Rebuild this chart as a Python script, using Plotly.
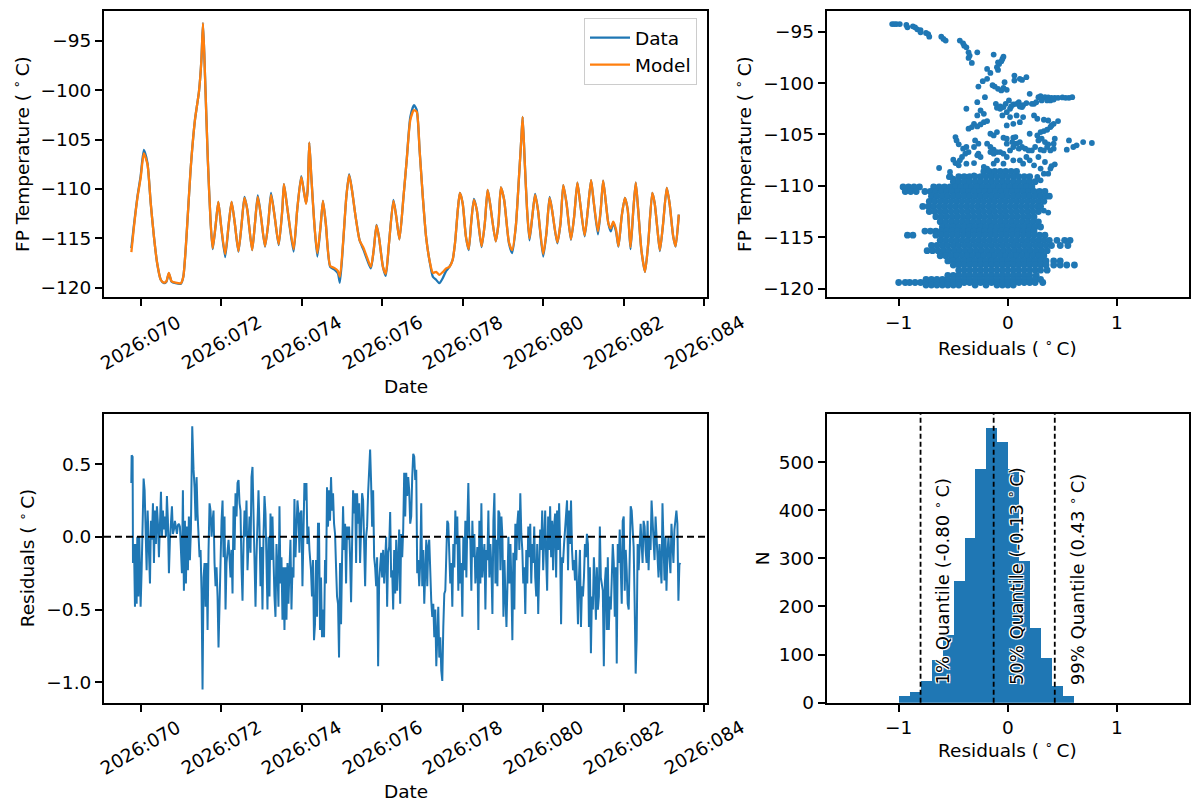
import plotly.graph_objects as go

# ---------------- data ----------------
temp_day = [69.77, 69.83, 69.92, 70.00, 70.08, 70.17, 70.25, 70.33, 70.41, 70.50,
            70.58, 70.64, 70.70, 70.77, 70.87, 71.00, 71.06, 71.14, 71.24, 71.35,
            71.45, 71.51, 71.55, 71.60, 71.67, 71.74, 71.79, 71.86, 71.93, 72.00,
            72.10, 72.19, 72.26, 72.34, 72.43, 72.51, 72.58, 72.65, 72.77, 72.84,
            72.91, 72.99, 73.09, 73.17, 73.24, 73.33, 73.43, 73.52, 73.56, 73.64,
            73.80, 73.89, 73.99, 74.05, 74.11, 74.15, 74.19, 74.24, 74.32, 74.39,
            74.47, 74.53, 74.60, 74.71, 74.81, 74.90, 74.95, 75.03, 75.11, 75.18,
            75.25, 75.34, 75.44, 75.54, 75.63, 75.72, 75.79, 75.86, 75.92, 76.02,
            76.09, 76.17, 76.28, 76.35, 76.43, 76.53, 76.61, 76.70, 76.79, 76.86,
            76.93, 77.01, 77.09, 77.18, 77.26, 77.34, 77.42, 77.51, 77.59, 77.67,
            77.75, 77.81, 77.88, 77.93, 78.00, 78.08, 78.15, 78.21, 78.28, 78.35,
            78.47, 78.55, 78.62, 78.68, 78.82, 78.89, 78.95, 79.03, 79.15, 79.23,
            79.32, 79.40, 79.46, 79.49, 79.54, 79.60, 79.66, 79.73, 79.80, 79.87,
            80.00, 80.08, 80.16, 80.22, 80.35, 80.43, 80.50, 80.58, 80.69, 80.77,
            80.85, 80.92, 81.03, 81.11, 81.19, 81.25, 81.36, 81.43, 81.49, 81.55,
            81.62, 81.68, 81.74, 81.81, 81.87, 81.95, 82.03, 82.10, 82.17, 82.24,
            82.30, 82.36, 82.44, 82.53, 82.61, 82.71, 82.77, 82.84, 82.90, 82.98,
            83.07, 83.14, 83.23, 83.29, 83.37]

temp_data = [-116.0, -113.8, -110.8, -108.7, -106.05, -107.4, -111.4, -114.8, -117.5, -119.2,
             -119.55, -119.4, -118.55, -119.4, -119.55, -119.6, -118.9, -114.8, -108.1, -103.0,
             -100.1, -96.9, -93.2, -98.6, -107.1, -113.5, -116.1, -113.8, -111.3, -113.8,
             -116.9, -113.5, -111.3, -113.5, -116.35, -113.5, -110.8, -112.1, -116.2, -113.5,
             -110.65, -112.8, -115.85, -113.5, -110.4, -112.8, -115.7, -112.1, -109.5, -111.8,
             -116.35, -112.1, -108.7, -110.1, -111.45, -110.1, -105.3, -108.75, -113.8, -116.85,
             -113.8, -111.2, -113.5, -117.9, -118.15, -118.55, -119.5, -115.5, -110.8, -108.5,
             -110.1, -112.8, -115.2, -116.2, -117.2, -118.05, -116.2, -113.65, -114.85, -117.9,
             -118.8, -115.5, -111.1, -112.8, -115.1, -110.8, -107.05, -102.7, -101.5, -102.0,
             -106.05, -110.8, -114.8, -117.35, -118.9, -119.2, -119.55, -119.0, -118.3, -117.9,
             -117.2, -115.5, -112.1, -110.4, -111.45, -114.8, -116.2, -113.5, -111.0, -112.1,
             -115.9, -113.5, -110.1, -111.45, -115.3, -113.5, -109.85, -111.1, -115.5, -116.5,
             -113.8, -108.75, -104.7, -102.7, -107.05, -112.1, -115.2, -112.8, -110.5, -112.1,
             -116.85, -114.5, -110.8, -112.1, -115.5, -113.5, -109.6, -111.45, -115.15, -112.8,
             -109.35, -111.45, -114.8, -112.1, -109.1, -111.1, -114.6, -112.1, -109.15, -111.1,
             -113.5, -114.3, -113.4, -114.3, -115.85, -112.8, -110.9, -112.1, -116.1, -112.1,
             -109.35, -112.1, -116.2, -118.4, -115.5, -110.4, -111.45, -114.15, -116.3, -113.5,
             -109.9, -111.45, -114.8, -115.85, -112.6]

temp_model = [-116.4, -114.0, -110.9, -108.9, -106.4, -107.5, -111.4, -114.8, -117.5, -119.2,
              -119.5, -119.35, -118.5, -119.35, -119.5, -119.55, -118.9, -114.8, -108.1, -103.0,
              -100.1, -96.9, -93.2, -98.6, -107.1, -113.5, -116.0, -113.8, -111.3, -113.8,
              -116.6, -113.5, -111.3, -113.5, -116.3, -113.5, -110.9, -112.1, -116.2, -113.5,
              -110.8, -112.8, -115.8, -113.5, -110.6, -112.8, -115.6, -112.1, -109.5, -111.8,
              -116.1, -112.1, -108.8, -110.1, -111.5, -110.1, -105.3, -108.75, -113.8, -116.5,
              -113.8, -111.2, -113.5, -117.8, -118.0, -118.3, -118.9, -115.4, -110.8, -108.6,
              -110.1, -112.8, -115.2, -116.0, -117.0, -117.9, -116.2, -113.7, -114.85, -117.9,
              -118.6, -115.5, -111.2, -112.8, -115.1, -110.8, -107.05, -103.0, -102.0, -102.2,
              -106.05, -110.8, -114.8, -117.3, -118.5, -118.4, -118.7, -118.4, -118.05, -117.9,
              -117.2, -115.5, -112.1, -110.4, -111.45, -114.8, -116.1, -113.5, -111.1, -112.1,
              -115.8, -113.5, -110.1, -111.45, -115.3, -113.5, -109.85, -111.1, -115.4, -116.2,
              -113.8, -108.75, -104.7, -102.7, -107.05, -112.1, -115.0, -112.8, -110.6, -112.1,
              -116.6, -114.5, -110.9, -112.1, -115.4, -113.5, -109.6, -111.45, -115.1, -112.8,
              -109.35, -111.45, -114.7, -112.1, -109.1, -111.1, -114.3, -112.1, -109.15, -111.1,
              -113.5, -114.0, -113.3, -114.1, -115.8, -112.8, -110.9, -112.1, -115.9, -112.1,
              -109.35, -112.1, -116.2, -118.4, -115.5, -110.4, -111.45, -114.15, -116.2, -113.5,
              -109.9, -111.45, -114.8, -115.8, -112.6]

resid_day = [
    69.768, 69.777, 69.801, 69.810, 69.835, 69.859, 69.884, 69.901, 69.917, 69.942,
    69.967, 70.000, 70.025, 70.050, 70.074, 70.099, 70.124, 70.149, 70.174, 70.207,
    70.232, 70.256, 70.281, 70.306, 70.331, 70.356, 70.380, 70.405, 70.430, 70.455,
    70.480, 70.505, 70.529, 70.554, 70.579, 70.604, 70.629, 70.653, 70.678, 70.703,
    70.728, 70.753, 70.778, 70.802, 70.827, 70.852, 70.877, 70.902, 70.926, 70.951,
    70.976, 71.001, 71.026, 71.050, 71.075, 71.100, 71.125, 71.150, 71.175, 71.199,
    71.224, 71.249, 71.282, 71.315, 71.340, 71.365, 71.390, 71.414, 71.439, 71.464,
    71.489, 71.514, 71.538, 71.563, 71.588, 71.613, 71.638, 71.663, 71.687, 71.712,
    71.737, 71.762, 71.787, 71.811, 71.836, 71.861, 71.886, 71.911, 71.935, 71.960,
    71.985, 72.010, 72.035, 72.060, 72.084, 72.109, 72.134, 72.159, 72.184, 72.208,
    72.233, 72.258, 72.283, 72.308, 72.333, 72.357, 72.382, 72.407, 72.432, 72.457,
    72.481, 72.506, 72.531, 72.556, 72.581, 72.605, 72.630, 72.655, 72.680, 72.705,
    72.730, 72.754, 72.779, 72.804, 72.829, 72.854, 72.878, 72.903, 72.928, 72.953,
    72.978, 73.002, 73.027, 73.052, 73.077, 73.102, 73.127, 73.151, 73.176, 73.201,
    73.226, 73.251, 73.275, 73.300, 73.325, 73.350, 73.375, 73.400, 73.424, 73.449,
    73.474, 73.499, 73.524, 73.548, 73.573, 73.598, 73.623, 73.648, 73.672, 73.697,
    73.722, 73.747, 73.772, 73.797, 73.821, 73.846, 73.871, 73.896, 73.921, 73.945,
    73.970, 73.995, 74.020, 74.045, 74.069, 74.094, 74.119, 74.144, 74.169, 74.194,
    74.232, 74.257, 74.282, 74.307, 74.332, 74.357, 74.381, 74.406, 74.431, 74.456,
    74.481, 74.506, 74.531, 74.556, 74.581, 74.606, 74.630, 74.655, 74.680, 74.705,
    74.730, 74.755, 74.780, 74.805, 74.830, 74.855, 74.879, 74.904, 74.929, 74.954,
    74.979, 75.004, 75.029, 75.054, 75.079, 75.104, 75.128, 75.153, 75.178, 75.203,
    75.228, 75.253, 75.278, 75.303, 75.328, 75.353, 75.377, 75.402, 75.427, 75.452,
    75.477, 75.502, 75.527, 75.552, 75.577, 75.602, 75.626, 75.651, 75.676, 75.701,
    75.726, 75.751, 75.776, 75.801, 75.826, 75.851, 75.875, 75.900, 75.925, 75.950,
    75.975, 76.000, 76.025, 76.050, 76.075, 76.100, 76.124, 76.149, 76.174, 76.199,
    76.224, 76.249, 76.274, 76.299, 76.324, 76.349, 76.373, 76.398, 76.423, 76.448,
    76.473, 76.498, 76.523, 76.548, 76.573, 76.598, 76.622, 76.647, 76.672, 76.697,
    76.722, 76.747, 76.772, 76.797, 76.822, 76.847, 76.871, 76.896, 76.921, 76.946,
    76.971, 76.996, 77.021, 77.046, 77.071, 77.096, 77.120, 77.145, 77.170, 77.195,
    77.220, 77.245, 77.270, 77.295, 77.320, 77.345, 77.369, 77.394, 77.419, 77.444,
    77.469, 77.494, 77.519, 77.544, 77.569, 77.594, 77.618, 77.643, 77.668, 77.693,
    77.718, 77.743, 77.768, 77.793, 77.818, 77.843, 77.867, 77.892, 77.917, 77.942,
    77.967, 77.992, 78.017, 78.042, 78.067, 78.092, 78.116, 78.141, 78.166, 78.191,
    78.216, 78.241, 78.266, 78.291, 78.316, 78.341, 78.365, 78.390, 78.415, 78.440,
    78.465, 78.490, 78.515, 78.540, 78.565, 78.590, 78.614, 78.639, 78.664, 78.689,
    78.714, 78.739, 78.764, 78.789, 78.814, 78.839, 78.863, 78.888, 78.913, 78.938,
    78.963, 78.988, 79.013, 79.038, 79.063, 79.088, 79.112, 79.137, 79.162, 79.187,
    79.210, 79.235, 79.259, 79.284, 79.309, 79.334, 79.358, 79.383, 79.408, 79.432,
    79.457, 79.482, 79.506, 79.531, 79.556, 79.581, 79.605, 79.630, 79.655, 79.679,
    79.704, 79.729, 79.753, 79.778, 79.803, 79.828, 79.852, 79.877, 79.902, 79.926,
    79.951, 79.976, 80.000, 80.025, 80.050, 80.075, 80.099, 80.124, 80.149, 80.173,
    80.198, 80.223, 80.247, 80.272, 80.297, 80.322, 80.346, 80.371, 80.396, 80.420,
    80.445, 80.470, 80.494, 80.519, 80.544, 80.569, 80.593, 80.618, 80.643, 80.667,
    80.692, 80.717, 80.741, 80.766, 80.791, 80.816, 80.840, 80.865, 80.890, 80.914,
    80.939, 80.964, 80.988, 81.013, 81.038, 81.063, 81.087, 81.112, 81.137, 81.161,
    81.186, 81.211, 81.235, 81.260, 81.285, 81.310, 81.334, 81.359, 81.384, 81.408,
    81.433, 81.458, 81.482, 81.507, 81.532, 81.557, 81.581, 81.606, 81.631, 81.655,
    81.680, 81.705, 81.729, 81.754, 81.779, 81.804, 81.828, 81.853, 81.878, 81.902,
    81.927, 81.952, 81.976, 82.001, 82.026, 82.051, 82.075, 82.100, 82.125, 82.149,
    82.174, 82.199, 82.223, 82.248, 82.273, 82.298, 82.322, 82.347, 82.372, 82.396,
    82.421, 82.446, 82.470, 82.495, 82.520, 82.545, 82.569, 82.594, 82.619, 82.643,
    82.668, 82.693, 82.717, 82.742, 82.767, 82.792, 82.816, 82.841, 82.866, 82.890,
    82.915, 82.940, 82.964, 82.989, 83.014, 83.039, 83.063, 83.088, 83.113, 83.137,
    83.162, 83.187, 83.211, 83.236, 83.261, 83.286, 83.310, 83.335, 83.360, 83.384,
    83.409]

resid_val = [
    0.37, 0.56, 0.55, -0.18, -0.05, -0.48, -0.05, -0.46, 0.00, -0.41,
    0.00, -0.48, -0.23, 0.02, 0.40, 0.32, -0.02, -0.23, 0.18, -0.09,
    -0.32, 0.11, -0.02, 0.23, -0.18, 0.18, -0.05, 0.21, 0.09, -0.14,
    0.18, 0.31, 0.00, 0.18, 0.05, 0.14, 0.00, 0.28, 0.11, -0.25,
    -0.02, 0.14, 0.21, 0.02, 0.05, 0.11, 0.05, 0.02, 0.08, 0.09,
    0.07, -0.07, -0.25, 0.32, -0.37, 0.11, -0.32, 0.07, -0.23, 0.14,
    -0.16, 0.05, 0.76, 0.46, 0.34, 0.11, 0.41, 0.16, -0.05, -0.14,
    -0.09, -0.39, -1.05, -0.28, -0.18, -0.48, -0.18, -0.64, -0.09, 0.23,
    0.18, 0.00, 0.11, 0.18, -0.18, -0.34, -0.21, -0.41, -0.76, -0.39,
    -0.07, 0.11, 0.25, -0.14, 0.14, -0.50, -0.18, -0.09, -0.02, -0.14,
    -0.28, -0.09, -0.39, 0.21, -0.09, 0.30, 0.14, 0.37, 0.39, 0.23,
    0.18, -0.21, -0.44, -0.05, 0.18, 0.00, 0.25, -0.23, 0.05, 0.14,
    -0.11, 0.41, 0.48, 0.07, -0.23, -0.48, -0.14, 0.11, 0.32, 0.07,
    -0.34, -0.07, -0.50, 0.00, 0.28, 0.16, -0.16, -0.50, 0.00, -0.41,
    0.16, -0.16, 0.14, -0.23, -0.41, -0.55, -0.05, -0.23, -0.48, 0.21,
    -0.32, -0.14, -0.57, -0.21, -0.64, -0.21, -0.57, -0.18, -0.46, -0.23,
    -0.02, -0.50, -0.21, -0.28, 0.26, -0.14, 0.05, 0.25, 0.16, -0.11,
    0.16, 0.18, -0.34, 0.07, 0.37, 0.25, 0.37, -0.05, 0.07, -0.09,
    -0.23, -0.41, -0.16, -0.71, -0.60, -0.16, -0.55, 0.09, 0.09, -0.64,
    -0.28, -0.69, -0.50, -0.69, -0.16, -0.32, 0.34, 0.07, 0.32, 0.11,
    0.41, 0.18, 0.30, 0.09, 0.02, -0.21, -0.41, -0.46, -0.83, -0.18,
    -0.60, -0.16, 0.21, -0.09, 0.09, -0.32, 0.07, -0.02, 0.07, -0.14,
    -0.45, -0.05, 0.32, 0.16, 0.30, -0.18, 0.30, 0.09, 0.23, -0.18,
    0.18, 0.30, 0.25, -0.09, -0.34, 0.00, 0.07, 0.30, 0.41, 0.60,
    0.37, 0.07, 0.32, -0.14, -0.21, -0.34, -0.14, -0.89, -0.30, -0.21,
    -0.11, -0.28, -0.09, -0.32, -0.18, 0.00, -0.48, -0.11, -0.07, 0.17,
    -0.28, -0.23, -0.50, -0.09, -0.39, -0.02, -0.37, -0.14, 0.05, -0.46,
    0.02, -0.14, 0.05, 0.44, 0.14, 0.44, 0.28, 0.41, 0.32, 0.09,
    0.14, 0.41, 0.57, 0.55, 0.39, 0.46, -0.25, -0.16, -0.34, -0.18,
    0.23, -0.34, -0.09, -0.46, -0.14, -0.02, -0.34, -0.07, -0.02, -0.32,
    -0.44, -0.55, -0.46, -0.69, -0.50, -0.89, -0.69, -0.48, -0.83, -0.69,
    -0.92, -0.99, -0.62, -0.39, -0.37, -0.09, 0.11, 0.09, -0.23, -0.32,
    -0.18, -0.48, -0.05, -0.21, 0.18, -0.05, 0.14, -0.37, 0.00, -0.32,
    -0.18, -0.55, 0.00, -0.23, 0.11, -0.28, 0.09, 0.37, 0.00, -0.02,
    -0.37, 0.11, -0.14, 0.02, -0.32, -0.14, -0.07, -0.64, 0.11, -0.32,
    0.23, -0.28, -0.11, -0.05, -0.50, -0.09, -0.16, 0.18, -0.28, -0.05,
    -0.21, -0.53, 0.11, 0.30, -0.32, -0.02, -0.34, 0.18, 0.16, -0.23,
    0.14, 0.00, -0.55, -0.16, -0.41, -0.62, -0.34, 0.00, -0.32, -0.05,
    -0.32, -0.71, -0.11, -0.50, 0.09, -0.16, 0.09, 0.18, -0.09, 0.30,
    0.02, -0.09, -0.32, -0.21, -0.53, -0.09, -0.32, 0.07, -0.14, 0.09,
    -0.32, -0.05, -0.18, 0.07, -0.28, -0.41, -0.05, -0.53, -0.21, 0.05,
    -0.09, 0.18, -0.23, 0.00, 0.18, -0.16, -0.37, 0.14, -0.09, 0.21,
    -0.14, 0.11, -0.23, 0.07, 0.16, -0.28, 0.18, -0.09, 0.23, -0.05,
    -0.60, -0.14, -0.18, -0.05, 0.07, 0.11, 0.25, -0.23, 0.18, -0.05,
    0.25, -0.09, -0.23, -0.16, -0.30, -0.09, -0.41, -0.60, -0.28, -0.09,
    -0.62, -0.34, -0.41, -0.28, -0.05, -0.14, 0.02, -0.05, -0.62, -0.21,
    -0.80, -0.41, -0.50, -0.14, -0.32, -0.57, -0.21, -0.50, -0.41, 0.07,
    -0.28, -0.32, -0.37, -0.89, -0.32, -0.21, -0.64, -0.14, -0.64, -0.41,
    -0.50, -0.28, -0.05, -0.18, -0.55, -0.21, -0.87, -0.05, -0.18, 0.05,
    -0.23, -0.46, 0.11, 0.14, -0.37, -0.09, -0.23, -0.46, -0.50, -0.11,
    0.21, 0.18, 0.05, -0.07, -0.46, -0.94, -0.71, -0.05, -0.23, -0.11,
    0.09, -0.05, -0.18, 0.11, 0.07, -0.09, -0.18, 0.11, -0.23, 0.00,
    -0.09, 0.25, 0.11, -0.09, -0.16, 0.14, 0.00, -0.14, -0.28, -0.05,
    -0.21, -0.32, 0.23, -0.09, -0.30, 0.00, -0.37, -0.11, 0.00, -0.14,
    -0.25, 0.09, -0.09, -0.18, 0.05, 0.14, 0.18, 0.09, -0.44, -0.19,
    -0.18]

# scatter: sparse points (upper part of the cloud)
sparse_resid = [-1.06, -1.04, -1.02, -0.99, -0.93, -0.92, -0.87, -0.85, -0.83, -0.80,
                -0.80, -0.75, -0.73, -0.72, -0.61, -0.59, -0.57, -0.44, -0.41, -0.40,
                -0.38, -0.36, -0.35, -0.28, -0.36, -0.33, -0.13, -0.04, -0.05, -0.06,
                -0.08, -0.09, -0.10, -0.09, -0.19, -0.16, -0.23, -0.27, -0.19, -0.14,
                -0.12, -0.09, -0.04, -0.03, -0.01, -0.06, 0.06, 0.06, 0.11, 0.13,
                0.17, -0.21, -0.28, -0.11, -0.10, -0.07, -0.04, -0.02, 0.01, 0.03,
                0.05, 0.08, 0.10, 0.13, 0.14, 0.20, 0.24, 0.28, 0.30, 0.32,
                0.34, 0.37, 0.40, 0.43, 0.46, 0.50, 0.53, 0.56, 0.59, 0.39,
                0.42, 0.36, -0.07, -0.01, 0.02, 0.08, -0.05, 0.02, -0.25, -0.22,
                -0.28, 0.05, -0.01, 0.11, 0.14, 0.24, 0.27, 0.37, 0.42, 0.46,
                0.33, 0.40, 0.11, 0.17, 0.22, 0.26, 0.31, -0.38, -0.31, -0.28,
                -0.25, -0.22, -0.19, -0.36, -0.33, -0.16, -0.13, -0.10, -0.04, -0.01,
                0.05, 0.07, -0.01, 0.04, 0.08, 0.11, 0.20, 0.27, 0.30, 0.33,
                0.36, 0.39, 0.28, 0.31, 0.34, 0.37, 0.42, 0.43, 0.56, 0.54,
                0.60, 0.63, 0.69, 0.77, -0.47, -0.45, -0.48, -0.19, -0.16, -0.13,
                -0.30, -0.27, -0.31, -0.41, -0.38, -0.36, -0.39, -0.42, -0.44, -0.50,
                -0.48, -0.45, -0.53, -0.63, -0.38, -0.31, -0.28, -0.27, -0.25, -0.16,
                -0.13, -0.10, -0.07, -0.04, 0.02, 0.05, 0.10, 0.13, 0.16, 0.19,
                0.22, 0.25, 0.30, 0.33, 0.36, 0.39, 0.42, 0.28, 0.34, 0.39,
                0.40, 0.43, 0.30, 0.33, 0.37, 0.11, 0.14, 0.17, 0.20, 0.24,
                0.05, -0.01, -0.22, -0.19, -0.13, -0.10, -0.04, -0.31, -0.38, -0.44,
                -0.50, -0.54, 0.27, 0.30, 0.33, 0.37]
sparse_temp = [-94.26, -94.26, -94.26, -94.26, -94.35, -94.58, -94.48, -94.58, -94.77, -94.84,
               -95.06, -95.13, -95.23, -95.49, -95.49, -95.71, -95.87, -95.87, -96.13, -96.36,
               -96.52, -97.01, -97.33, -97.01, -97.55, -98.04, -97.23, -97.43, -97.65, -97.88,
               -98.14, -97.98, -98.46, -98.72, -98.62, -99.01, -99.82, -100.34, -99.59, -100.21,
               -100.34, -100.56, -100.47, -99.92, -100.66, -100.72, -99.27, -99.75, -99.59, -99.69,
               -99.43, -101.37, -101.86, -102.02, -102.41, -102.28, -102.34, -102.02, -101.69, -102.28,
               -102.08, -102.02, -101.86, -102.34, -102.15, -101.05, -102.02, -101.37, -101.27, -101.44,
               -101.37, -101.40, -101.44, -101.44, -101.44, -101.40, -101.44, -101.44, -101.37, -101.69,
               -101.60, -101.69, -102.50, -102.83, -102.50, -103.15, -103.15, -103.31, -102.67, -102.99,
               -103.15, -103.96, -104.12, -103.80, -103.31, -103.15, -103.47, -103.64, -103.96, -103.70,
               -103.57, -104.12, -102.28, -101.95, -102.02, -101.86, -101.69, -102.50, -103.96, -104.22,
               -104.02, -103.80, -103.70, -104.44, -104.28, -104.93, -105.09, -104.77, -105.32, -105.41,
               -105.32, -105.25, -105.90, -105.74, -105.90, -105.74, -104.93, -105.09, -104.77, -104.67,
               -104.54, -104.28, -105.58, -105.41, -105.74, -105.96, -105.90, -105.41, -105.58, -106.48,
               -106.22, -106.06, -105.74, -105.83, -105.58, -105.96, -105.25, -105.90, -106.22, -106.48,
               -105.58, -105.90, -106.22, -106.38, -106.22, -106.71, -106.87, -107.19, -107.52, -107.45,
               -107.78, -108.00, -108.65, -108.26, -107.84, -107.78, -107.03, -106.87, -107.19, -106.71,
               -106.87, -106.71, -106.71, -106.87, -106.55, -106.22, -106.38, -106.22, -106.38, -106.55,
               -106.55, -106.22, -106.48, -106.55, -106.22, -106.55, -106.38, -107.19, -107.68, -108.32,
               -108.07, -107.90, -108.32, -108.81, -108.81, -107.52, -107.84, -107.19, -107.52, -108.00,
               -107.52, -107.19, -108.16, -108.32, -107.84, -107.52, -107.84, -108.97, -109.13, -109.13,
               -109.29, -109.13, -109.13, -109.46, -112.40, -112.60]

# scatter: dense core of the cloud, row by row (temperature, residuals along the row)
scatter_row_temp = [-108.6, -109.1, -109.6, -110.1, -110.55, -111.0, -111.5, -112.0, -112.5, -113.0,
                    -113.5, -114.0, -114.4, -114.8, -115.3, -115.8, -116.3, -116.8, -117.3, -117.7,
                    -118.2, -118.7, -119.1, -119.4, -119.65]
scatter_row_resid = [
    [-0.22, -0.17, -0.12, -0.07, -0.02, 0.03, 0.08],
    [-0.53, -0.45, -0.40, -0.35, -0.30, -0.25, -0.20, -0.15, -0.10, -0.05, 0.00, 0.05, 0.10, 0.15, 0.20],
    [-0.50, -0.45, -0.40, -0.35, -0.30, -0.25, -0.20, -0.15, -0.10, -0.05, 0.00, 0.05, 0.10, 0.15, 0.20, 0.25],
    [-0.96, -0.91, -0.86, -0.81, -0.68, -0.63, -0.58, -0.53, -0.48, -0.43, -0.38, -0.33, -0.28, -0.23,
     -0.18, -0.13, -0.08, -0.03, 0.02, 0.07, 0.12, 0.17, 0.22],
    [-0.94, -0.89, -0.84, -0.76, -0.71, -0.66, -0.61, -0.56, -0.51, -0.46, -0.41, -0.36, -0.31, -0.26, -0.21,
     -0.16, -0.11, -0.06, -0.01, 0.04, 0.09, 0.14, 0.19, 0.24, 0.29, 0.34],
    [-0.70, -0.65, -0.60, -0.55, -0.50, -0.45, -0.40, -0.35, -0.30, -0.25, -0.20, -0.15, -0.10, -0.05, 0.00,
     0.05, 0.10, 0.15, 0.20, 0.25, 0.30, 0.35, 0.38],
    [-0.72, -0.67, -0.62, -0.57, -0.52, -0.47, -0.42, -0.37, -0.32, -0.27, -0.22, -0.17, -0.12, -0.07, -0.02,
     0.03, 0.08, 0.13, 0.18, 0.23, 0.28, 0.33],
    [-0.78, -0.73, -0.68, -0.63, -0.58, -0.53, -0.48, -0.43, -0.38, -0.33, -0.28, -0.23, -0.18, -0.13, -0.08,
     -0.03, 0.02, 0.07, 0.12, 0.17, 0.22, 0.27, 0.30],
    [-0.72, -0.67, -0.62, -0.57, -0.52, -0.47, -0.42, -0.37, -0.32, -0.27, -0.22, -0.17, -0.12, -0.07, -0.02,
     0.03, 0.08, 0.13, 0.18, 0.23, 0.28],
    [-0.66, -0.61, -0.56, -0.51, -0.46, -0.41, -0.36, -0.31, -0.26, -0.21, -0.16, -0.11, -0.06, -0.01, 0.04,
     0.09, 0.14, 0.19, 0.24],
    [-0.62, -0.57, -0.52, -0.47, -0.42, -0.37, -0.32, -0.27, -0.22, -0.17, -0.12, -0.07, -0.02, 0.03, 0.08,
     0.13, 0.18, 0.23, 0.28],
    [-0.60, -0.55, -0.50, -0.45, -0.40, -0.35, -0.30, -0.25, -0.20, -0.15, -0.10, -0.05, 0.00, 0.05, 0.10,
     0.15, 0.20, 0.25, 0.30],
    [-0.76, -0.71, -0.66, -0.61, -0.56, -0.51, -0.46, -0.41, -0.36, -0.31, -0.26, -0.21, -0.16, -0.11, -0.06,
     -0.01, 0.04, 0.09, 0.14, 0.19, 0.24],
    [-0.92, -0.87, -0.66, -0.61, -0.56, -0.51, -0.46, -0.41, -0.36, -0.31, -0.26, -0.21, -0.16, -0.11, -0.06,
     -0.01, 0.04, 0.09, 0.14, 0.19, 0.24, 0.29, 0.34],
    [-0.62, -0.57, -0.52, -0.47, -0.42, -0.37, -0.32, -0.27, -0.22, -0.17, -0.12, -0.07, -0.02, 0.03, 0.08,
     0.13, 0.18, 0.23, 0.28, 0.33, 0.38, 0.45, 0.52, 0.57],
    [-0.70, -0.65, -0.60, -0.55, -0.50, -0.45, -0.40, -0.35, -0.30, -0.25, -0.20, -0.15, -0.10, -0.05, 0.00,
     0.05, 0.10, 0.15, 0.20, 0.25, 0.30, 0.35, 0.40, 0.48, 0.55],
    [-0.74, -0.69, -0.64, -0.59, -0.54, -0.49, -0.44, -0.39, -0.34, -0.29, -0.24, -0.19, -0.14, -0.09, -0.04,
     0.01, 0.06, 0.11, 0.16, 0.21, 0.26, 0.31, 0.36],
    [-0.62, -0.57, -0.52, -0.47, -0.42, -0.37, -0.32, -0.27, -0.22, -0.17, -0.12, -0.07, -0.02, 0.03, 0.08,
     0.13, 0.18, 0.23, 0.28, 0.33],
    [-0.55, -0.50, -0.45, -0.40, -0.35, -0.30, -0.25, -0.20, -0.15, -0.10, -0.05, 0.00, 0.05, 0.10, 0.15,
     0.20, 0.25, 0.30, 0.35, 0.42, 0.48],
    [-0.50, -0.45, -0.40, -0.35, -0.30, -0.25, -0.20, -0.15, -0.10, -0.05, 0.00, 0.05, 0.10, 0.15, 0.20,
     0.25, 0.30, 0.35, 0.42, 0.48, 0.54, 0.61],
    [-0.45, -0.40, -0.35, -0.30, -0.25, -0.20, -0.15, -0.10, -0.05, 0.00, 0.05, 0.10, 0.15, 0.20, 0.25,
     0.30, 0.36],
    [-0.55, -0.50, -0.45, -0.40, -0.35, -0.30, -0.25, -0.20, -0.15, -0.10, -0.05, 0.00, 0.05, 0.10, 0.15,
     0.20, 0.26],
    [-0.75, -0.70, -0.65, -0.60, -0.55, -0.50, -0.45, -0.40, -0.35, -0.30, -0.25, -0.20, -0.15, -0.10, -0.05,
     0.00, 0.05, 0.10, 0.15, 0.20, 0.25, 0.30],
    [-1.00, -0.94, -0.90, -0.85, -0.80, -0.75, -0.70, -0.65, -0.60, -0.55, -0.50, -0.45, -0.40, -0.35, -0.30,
     -0.25, -0.20, -0.15, -0.10, -0.05, 0.00, 0.05, 0.10, 0.15, 0.20, 0.25, 0.32],
    [-0.75, -0.70, -0.65, -0.60, -0.55, -0.50, -0.45, -0.30, -0.20, -0.10, -0.05, 0.00, 0.05],
]

hist_left = [-1.0, -0.9, -0.8, -0.7, -0.6, -0.5, -0.4, -0.3, -0.2, -0.1, 0.0, 0.1, 0.2, 0.3, 0.4, 0.5]
hist_counts = [14, 23, 46, 88, 140, 253, 343, 485, 571, 541, 485, 295, 156, 92, 35, 14]

quantile_pct = ["1%", "50%", "99%"]
quantile_val = [-0.80, -0.13, 0.43]

date_ticks = [70, 72, 74, 76, 78, 80, 82, 84]
date_labels = ["2026:070", "2026:072", "2026:074", "2026:076", "2026:078", "2026:080", "2026:082", "2026:084"]

# ---------------- figure ----------------
BLUE = "#1f77b4"
ORANGE = "#ff7f0e"
FONT = "DejaVu Sans"
FS = 18.5
W, H = 1198, 812

core_resid = []
core_temp = []
for t, rs in zip(scatter_row_temp, scatter_row_resid):
    for r in rs:
        core_resid.append(r)
        core_temp.append(t)

fig = go.Figure()
fig.add_trace(go.Scatter(x=temp_day, y=temp_data, mode="lines", name="Data",
                         line=dict(color=BLUE, width=2.3, shape="spline", smoothing=0.6),
                         xaxis="x", yaxis="y"))
fig.add_trace(go.Scatter(x=temp_day, y=temp_model, mode="lines", name="Model",
                         line=dict(color=ORANGE, width=2.3, shape="spline", smoothing=0.6),
                         xaxis="x", yaxis="y"))
fig.add_trace(go.Scatter(x=sparse_resid, y=sparse_temp, mode="markers", showlegend=False,
                         marker=dict(color=BLUE, size=5.8, line=dict(width=0)), xaxis="x2", yaxis="y2"))
fig.add_trace(go.Scatter(x=core_resid, y=core_temp, mode="markers", showlegend=False,
                         marker=dict(color=BLUE, size=6.8, line=dict(width=0)), xaxis="x2", yaxis="y2"))
fig.add_trace(go.Scatter(x=resid_day, y=resid_val, mode="lines", showlegend=False,
                         line=dict(color=BLUE, width=2.0), xaxis="x3", yaxis="y3"))
fig.add_trace(go.Bar(x=hist_left, y=hist_counts, width=0.1, offset=0, showlegend=False,
                     marker=dict(color=BLUE, line=dict(width=0)), xaxis="x4", yaxis="y4"))


def ax(**kw):
    base = dict(showline=True, linecolor="black", linewidth=2, mirror=True,
                ticks="outside", ticklen=7, tickwidth=1.8, tickcolor="black",
                showgrid=False, zeroline=False, automargin=False,
                tickfont=dict(family=FONT, size=FS, color="black"))
    base.update(kw)
    return base


def px_x(p):
    return p / W


def px_y(p):
    return 1 - p / H


LEFT = [px_x(104), px_x(707)]
RIGHT = [px_x(826.7), px_x(1189)]
TOP = [px_y(297.3), px_y(10.7)]
BOT = [px_y(702.7), px_y(414)]

fig.update_layout(
    width=W, height=H, margin=dict(l=0, r=0, t=0, b=0),
    paper_bgcolor="white", plot_bgcolor="white",
    font=dict(family=FONT, size=FS, color="black"),
    xaxis=ax(domain=LEFT, anchor="y", range=[69.09, 84.07], tickvals=date_ticks, showticklabels=False),
    yaxis=ax(domain=TOP, anchor="x", range=[-120.98, -91.93], tickvals=[-120, -115, -110, -105, -100, -95]),
    xaxis2=ax(domain=RIGHT, anchor="y2", range=[-1.66, 1.66], tickvals=[-1, 0, 1]),
    yaxis2=ax(domain=TOP, anchor="x2", range=[-120.84, -92.96], tickvals=[-120, -115, -110, -105, -100, -95]),
    xaxis3=ax(domain=LEFT, anchor="y3", range=[69.09, 84.07], tickvals=date_ticks, showticklabels=False),
    yaxis3=ax(domain=BOT, anchor="x3", range=[-1.14, 0.844], tickvals=[-1.0, -0.5, 0.0, 0.5], tickformat=".1f"),
    xaxis4=ax(domain=RIGHT, anchor="y4", range=[-1.66, 1.66], tickvals=[-1, 0, 1]),
    yaxis4=ax(domain=BOT, anchor="x4", range=[0, 600], tickvals=[0, 100, 200, 300, 400, 500]),
    legend=dict(x=px_x(697), y=px_y(18), xanchor="right", yanchor="top",
                bgcolor="rgba(255,255,255,0.9)", bordercolor="#cccccc", borderwidth=1,
                font=dict(family=FONT, size=FS, color="black"), tracegroupgap=2,
                itemwidth=40),
    bargap=0,
)

shapes = [dict(type="line", xref="x3 domain", x0=0, x1=1, yref="y3", y0=0, y1=0,
               line=dict(color="black", width=2, dash="7px,4px"))]
for q in quantile_val:
    shapes.append(dict(type="line", xref="x4", x0=q, x1=q, yref="y4 domain", y0=0, y1=1,
                       line=dict(color="black", width=1.8, dash="5px,3px")))
fig.update_layout(shapes=shapes)

DEG = "( <sup>∘</sup>\u2009C)"
ann = []
for xa, yc in (("x", px_y(342)), ("x3", px_y(747.5))):
    for v, lab in zip(date_ticks, date_labels):
        ann.append(dict(x=v, xref=xa, y=yc, yref="paper", text=lab, showarrow=False,
                        textangle=-30, xanchor="center", yanchor="middle",
                        font=dict(family=FONT, size=FS, color="black")))
ann.append(dict(x=0.5, xref="x domain", y=px_y(387), yref="paper", text="Date", showarrow=False,
                xanchor="center", yanchor="middle", font=dict(family=FONT, size=FS)))
ann.append(dict(x=0.5, xref="x3 domain", y=px_y(791), yref="paper", text="Date", showarrow=False,
                xanchor="center", yanchor="middle", font=dict(family=FONT, size=FS)))
ann.append(dict(x=0.5, xref="x2 domain", y=px_y(347), yref="paper", text="Residuals " + DEG,
                showarrow=False, xanchor="center", yanchor="middle", font=dict(family=FONT, size=FS)))
ann.append(dict(x=0.5, xref="x4 domain", y=px_y(749), yref="paper", text="Residuals " + DEG,
                showarrow=False, xanchor="center", yanchor="middle", font=dict(family=FONT, size=FS)))
ann.append(dict(x=px_x(21), xref="paper", y=0.5, yref="y domain", text="FP Temperature " + DEG,
                showarrow=False, textangle=-90, xanchor="center", yanchor="middle",
                font=dict(family=FONT, size=FS)))
ann.append(dict(x=px_x(743), xref="paper", y=0.5, yref="y2 domain", text="FP Temperature " + DEG,
                showarrow=False, textangle=-90, xanchor="center", yanchor="middle",
                font=dict(family=FONT, size=FS)))
ann.append(dict(x=px_x(27), xref="paper", y=0.5, yref="y3 domain", text="Residuals " + DEG,
                showarrow=False, textangle=-90, xanchor="center", yanchor="middle",
                font=dict(family=FONT, size=FS)))
ann.append(dict(x=px_x(762), xref="paper", y=0.5, yref="y4 domain", text="N",
                showarrow=False, textangle=-90, xanchor="center", yanchor="middle",
                font=dict(family=FONT, size=FS)))
for pct, q in zip(quantile_pct, quantile_val):
    ann.append(dict(x=q + 0.07, xref="x4", y=33, yref="y4",
                    text=f"{pct} Quantile ({q:.2f} <sup>∘</sup>\u2009C)", showarrow=False,
                    textangle=-90, xanchor="left", yanchor="bottom",
                    font=dict(family=FONT, size=FS - 0.5, color="black",
                              shadow="-1px -1px 0 #fff, 1px -1px 0 #fff, -1px 1px 0 #fff, 1px 1px 0 #fff, 0 0 2px #fff")))
fig.update_layout(annotations=ann)

fig.write_html("out.html", post_script="document.body.style.margin='0';",
               config={"displayModeBar": False})
